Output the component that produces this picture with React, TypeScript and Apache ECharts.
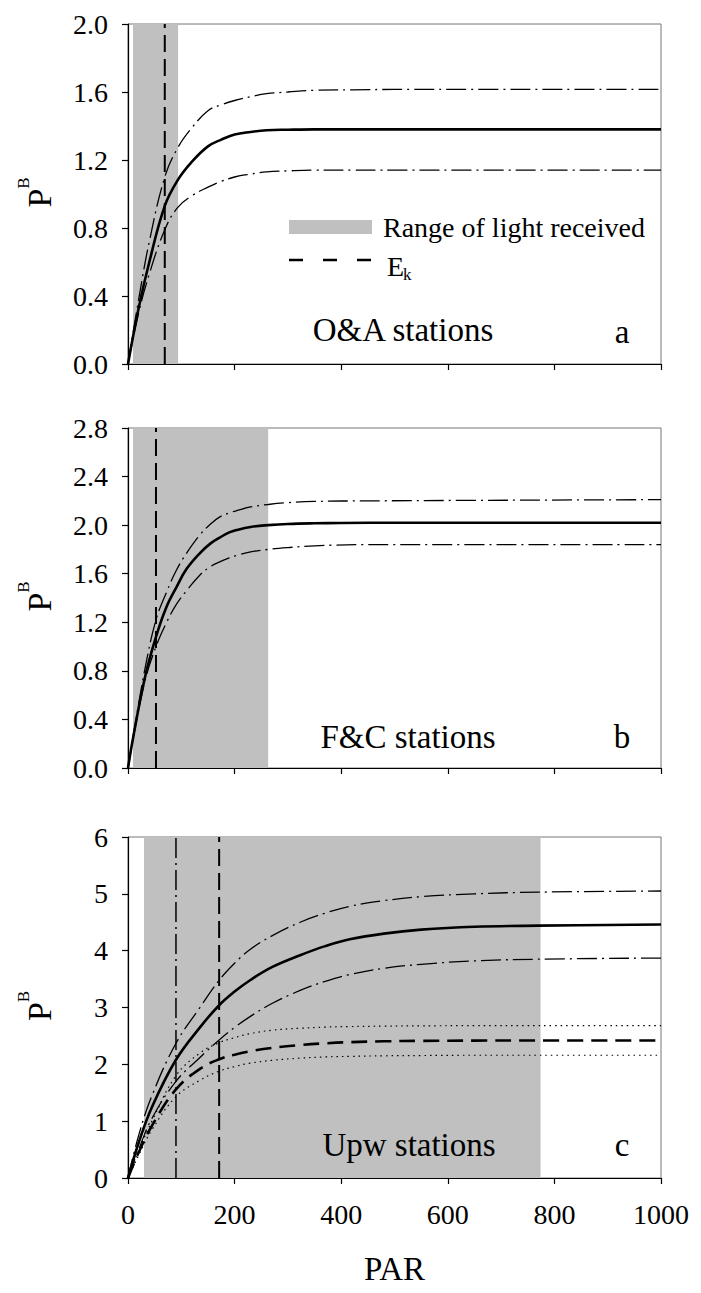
import React, { useEffect, useRef } from "react";
import * as echarts from "echarts";

// ---- Data ----
const X_TICKS = [0, 200, 400, 600, 800, 1000];

// Panel a: O&A stations
const PAR_A = [0, 20, 40, 69, 93, 120, 150, 175, 200, 230, 260, 300, 350, 420, 500, 1000];
const SOLID_A = [0, 0.33, 0.6, 0.93, 1.08, 1.19, 1.28, 1.32, 1.35, 1.365, 1.375, 1.378, 1.38, 1.38, 1.38, 1.38];
const UPPER_A = [0, 0.38, 0.72, 1.1, 1.27, 1.39, 1.49, 1.525, 1.55, 1.572, 1.59, 1.6, 1.61, 1.613, 1.615, 1.615];
const LOWER_A = [0, 0.3, 0.53, 0.79, 0.92, 0.99, 1.04, 1.075, 1.1, 1.117, 1.13, 1.136, 1.14, 1.14, 1.14, 1.14];
const LIGHT_A = [9.4, 94];
const EK_A = 69;

// Panel b: F&C stations
const PAR_B = [0, 10, 32, 52.5, 72.5, 91, 110, 135, 155, 173, 190, 204, 230, 263, 300, 350, 454, 1000];
const SOLID_B = [0, 0.26, 0.75, 1.08, 1.33, 1.49, 1.64, 1.77, 1.85, 1.9, 1.94, 1.96, 1.985, 2.0, 2.01, 2.015, 2.02, 2.02];
const UPPER_B = [0, 0.27, 0.82, 1.22, 1.45, 1.63, 1.77, 1.92, 2.01, 2.07, 2.1, 2.12, 2.15, 2.17, 2.185, 2.195, 2.2, 2.21];
const LOWER_B = [0, 0.25, 0.72, 1.0, 1.2, 1.35, 1.46, 1.59, 1.66, 1.7, 1.73, 1.75, 1.78, 1.8, 1.815, 1.83, 1.84, 1.84];
const LIGHT_B = [9.4, 263];
const EK_B = 52.5;

// Panel c: Upw stations
const PAR_C = [0, 20, 45, 90, 135, 171, 200, 229, 270, 323, 370, 416, 480, 550, 650, 770, 1000];
const SOLID_C = [0, 0.62, 1.25, 2.08, 2.65, 3.04, 3.28, 3.48, 3.71, 3.92, 4.08, 4.2, 4.3, 4.37, 4.42, 4.44, 4.46];
const UPPER_C = [0, 0.75, 1.45, 2.37, 3.0, 3.48, 3.78, 4.02, 4.26, 4.5, 4.66, 4.78, 4.88, 4.95, 5.0, 5.03, 5.05];
const LOWER_C = [0, 0.5, 1.05, 1.7, 2.12, 2.43, 2.65, 2.84, 3.07, 3.3, 3.46, 3.58, 3.69, 3.76, 3.82, 3.85, 3.87];
const DASHED_C = [0, 0.45, 0.92, 1.56, 1.92, 2.09, 2.17, 2.23, 2.29, 2.34, 2.37, 2.39, 2.405, 2.413, 2.418, 2.42, 2.42];
const DOT_UP_C = [0, 0.48, 1.0, 1.8, 2.2, 2.38, 2.47, 2.54, 2.6, 2.635, 2.655, 2.665, 2.672, 2.677, 2.68, 2.68, 2.68];
const DOT_LO_C = [0, 0.4, 0.85, 1.43, 1.72, 1.88, 1.96, 2.02, 2.07, 2.11, 2.13, 2.14, 2.15, 2.155, 2.16, 2.16, 2.16];
const LIGHT_C = [30, 774];
const EK_C = 171;
const EK_C2 = 90;

const Y_A = { max: 2.0, step: 0.4 };
const Y_B = { max: 2.8, step: 0.4 };
const Y_C = { max: 6, step: 1 };

const FONT = "Liberation Serif";
const W = 701;
const H = 1293;
const LEFT = 128;
const RIGHT_X = 661;
const TOPS = [24, 428, 837];
const HEIGHTS = [340, 340, 341];

const pairs = (xs: number[], ys: number[]) => xs.map((x, i) => [x, ys[i]]);

const SOLID_STYLE = { color: "#000", width: 2.6, type: "solid" };
const DASHDOT_STYLE = { color: "#000", width: 1.3, type: [20, 5, 2, 5] };
const DOTTED_STYLE = { color: "#000", width: 1.2, type: [1.5, 4] };
const THICKDASH_STYLE = { color: "#000", width: 2.6, type: [16, 8] };
const VDASH_STYLE = { color: "#000", width: 2, type: [17, 7] };
const VDASHDOT_STYLE = { color: "#000", width: 1.5, type: [20, 5, 2, 5] };

function curve(idx: number, xs: number[], ys: number[], style: any, z = 4) {
  return {
    type: "line",
    xAxisIndex: idx,
    yAxisIndex: idx,
    data: pairs(xs, ys),
    symbol: "none",
    showSymbol: false,
    smooth: 0.4,
    lineStyle: style,
    silent: true,
    z,
  };
}

function band(idx: number, range: number[]) {
  return {
    type: "line",
    xAxisIndex: idx,
    yAxisIndex: idx,
    data: [],
    symbol: "none",
    silent: true,
    z: 1,
    markArea: {
      silent: true,
      itemStyle: { color: "#c0c0c0" },
      data: [[{ xAxis: range[0] }, { xAxis: range[1] }]],
    },
  };
}

function vline(idx: number, x: number, ymax: number, style: any) {
  return {
    type: "line",
    xAxisIndex: idx,
    yAxisIndex: idx,
    data: [
      [x, 0],
      [x, ymax],
    ],
    symbol: "none",
    silent: true,
    lineStyle: style,
    z: 3,
  };
}

function xAxis(idx: number, showLabels: boolean) {
  return {
    type: "value",
    gridIndex: idx,
    min: X_TICKS[0],
    max: X_TICKS[X_TICKS.length - 1],
    interval: X_TICKS[1] - X_TICKS[0],
    axisLine: { show: true, onZero: false, lineStyle: { color: "#000", width: 1.2 } },
    axisTick: { show: true, inside: false, length: 6, lineStyle: { color: "#000", width: 1.2 } },
    axisLabel: {
      show: showLabels,
      margin: 22,
      fontFamily: FONT,
      fontSize: 28,
      color: "#000",
      formatter: (v: number) => String(v),
    },
    splitLine: { show: false },
    name: showLabels ? "PAR" : "",
    nameLocation: "middle",
    nameGap: 74,
    nameTextStyle: { fontFamily: FONT, fontSize: 33, color: "#000" },
  };
}

function yAxis(idx: number, cfg: { max: number; step: number }, decimals: number) {
  return {
    type: "value",
    gridIndex: idx,
    min: 0,
    max: cfg.max,
    interval: cfg.step,
    axisLine: { show: true, onZero: false, lineStyle: { color: "#000", width: 1.2 } },
    axisTick: { show: true, inside: false, length: 6, lineStyle: { color: "#000", width: 1.2 } },
    axisLabel: {
      show: true,
      margin: 20,
      fontFamily: FONT,
      fontSize: 28,
      color: "#000",
      formatter: (v: number) => v.toFixed(decimals),
    },
    splitLine: { show: false },
  };
}

function yLabel(top: number, height: number) {
  const c = top + height / 2;
  return [
    {
      type: "text",
      x: 39,
      y: c + 4,
      rotation: Math.PI / 2,
      style: {
        text: "P",
        fontFamily: FONT,
        fontSize: 34,
        fill: "#000",
        align: "center",
        verticalAlign: "middle",
      },
    },
    {
      type: "text",
      x: 23,
      y: c - 11,
      rotation: Math.PI / 2,
      style: {
        text: "B",
        fontFamily: FONT,
        fontSize: 17,
        fill: "#000",
        align: "center",
        verticalAlign: "middle",
      },
    },
  ];
}

function label(text: string, x: number, y: number, size = 33, align = "center") {
  return {
    type: "text",
    x,
    y,
    style: {
      text,
      fontFamily: FONT,
      fontSize: size,
      fill: "#000",
      align,
      verticalAlign: "middle",
    },
    z: 10,
  };
}

export default function App() {
  const ref = useRef<HTMLDivElement>(null);

  useEffect(() => {
    document.body.style.margin = "0";
    if (!ref.current) return;
    const chart = echarts.init(ref.current, undefined, { renderer: "svg" });

    const grids = TOPS.map((t, i) => ({
      left: LEFT,
      width: RIGHT_X - LEFT,
      top: t,
      height: HEIGHTS[i],
      show: true,
      borderColor: "#777",
      borderWidth: 1,
      backgroundColor: "transparent",
    }));

    const option: any = {
      animation: false,
      backgroundColor: "#fff",
      textStyle: { fontFamily: FONT },
      grid: grids,
      xAxis: [xAxis(0, false), xAxis(1, false), xAxis(2, true)],
      yAxis: [yAxis(0, Y_A, 1), yAxis(1, Y_B, 1), yAxis(2, Y_C, 0)],
      series: [
        // panel a
        band(0, LIGHT_A),
        vline(0, EK_A, Y_A.max, VDASH_STYLE),
        curve(0, PAR_A, UPPER_A, DASHDOT_STYLE),
        curve(0, PAR_A, LOWER_A, DASHDOT_STYLE),
        curve(0, PAR_A, SOLID_A, SOLID_STYLE, 5),
        // panel b
        band(1, LIGHT_B),
        vline(1, EK_B, Y_B.max, VDASH_STYLE),
        curve(1, PAR_B, UPPER_B, DASHDOT_STYLE),
        curve(1, PAR_B, LOWER_B, DASHDOT_STYLE),
        curve(1, PAR_B, SOLID_B, SOLID_STYLE, 5),
        // panel c
        band(2, LIGHT_C),
        vline(2, EK_C, Y_C.max, VDASH_STYLE),
        vline(2, EK_C2, Y_C.max, VDASHDOT_STYLE),
        curve(2, PAR_C, UPPER_C, DASHDOT_STYLE),
        curve(2, PAR_C, LOWER_C, DASHDOT_STYLE),
        curve(2, PAR_C, DOT_UP_C, DOTTED_STYLE),
        curve(2, PAR_C, DOT_LO_C, DOTTED_STYLE),
        curve(2, PAR_C, DASHED_C, THICKDASH_STYLE, 5),
        curve(2, PAR_C, SOLID_C, SOLID_STYLE, 5),
      ],
      graphic: [
        ...yLabel(TOPS[0], HEIGHTS[0]),
        ...yLabel(TOPS[1], HEIGHTS[1]),
        ...yLabel(TOPS[2], HEIGHTS[2]),
        // legend in panel a
        {
          type: "rect",
          shape: { x: 289, y: 220, width: 83, height: 14 },
          style: { fill: "#c0c0c0" },
          z: 10,
        },
        label("Range of light received", 383, 227, 28, "left"),
        {
          type: "line",
          shape: { x1: 289, y1: 260, x2: 372, y2: 260 },
          style: { stroke: "#000", lineWidth: 2.4, lineDash: [14, 20] },
          z: 10,
        },
        label("E", 387, 266, 28, "left"),
        label("k", 403, 274, 17, "left"),
        // panel annotations
        label("O&A stations", 403, 330),
        label("a", 622, 332),
        label("F&C stations", 408, 737),
        label("b", 622, 737),
        label("Upw stations", 409, 1145),
        label("c", 622, 1145),
      ],
    };

    chart.setOption(option);
    return () => chart.dispose();
  }, []);

  return <div ref={ref} style={{ width: W, height: H }} />;
}
